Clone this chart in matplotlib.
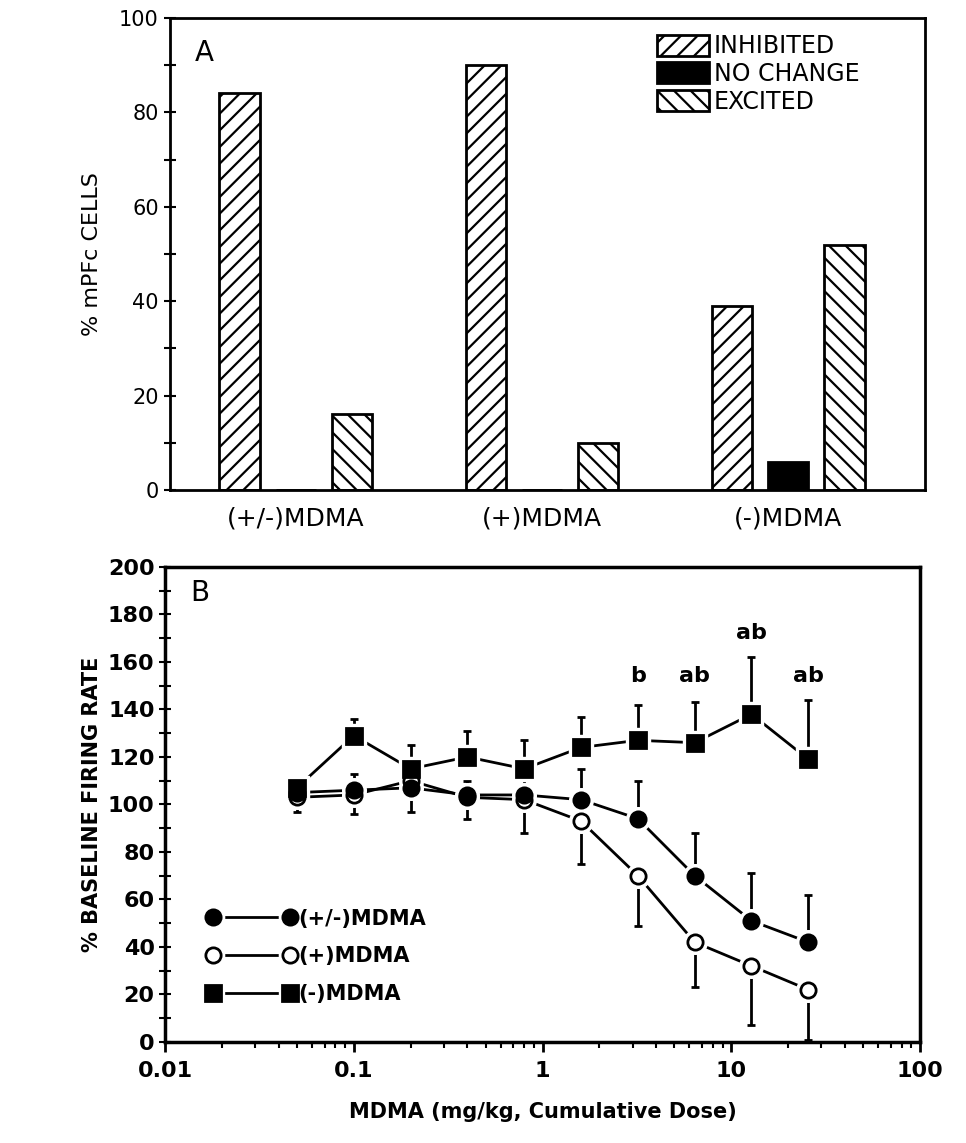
import matplotlib
matplotlib.use("Agg")
import matplotlib.pyplot as plt
import numpy as np
from matplotlib.lines import Line2D
from matplotlib.ticker import LogLocator, NullFormatter, MultipleLocator

# panel A data
groups = ["(+/-)MDMA", "(+)MDMA", "(-)MDMA"]
inhibited = [84, 90, 39]
no_change = [0, 0, 6]
excited = [16, 10, 52]

# panel B data
dose = [0.05, 0.1, 0.2, 0.4, 0.8, 1.6, 3.2, 6.4, 12.8, 25.6]
racemic = [105, 106, 107, 104, 104, 102, 94, 70, 51, 42]
racemic_err = [3, 7, 9, 6, 8, 13, 16, 18, 20, 20]
plus = [103, 104, 110, 103, 102, 93, 70, 42, 32, 22]
plus_err = [6, 8, 13, 9, 14, 18, 21, 19, 25, 21]
minus = [107, 129, 115, 120, 115, 124, 127, 126, 138, 119]
minus_err = [2, 7, 10, 11, 12, 13, 15, 17, 24, 25]
sig_labels = ["b", "ab", "ab", "ab"]
sig_dose = [3.2, 6.4, 12.8, 25.6]
sig_y = [150, 150, 168, 150]

plt.rcParams['hatch.linewidth'] = 1.6
plt.rcParams['font.family'] = 'DejaVu Sans'

fig = plt.figure(figsize=(9.66, 11.43), dpi=100)

# ---------- panel A ----------
ax1 = fig.add_axes([0.176, 0.5713, 0.7816, 0.4130])
x = np.arange(len(groups))
off = 0.228
w = 0.163
ax1.bar(x - off, inhibited, w, color='white', edgecolor='black', hatch='//', lw=2, label='INHIBITED')
ax1.bar(x, no_change, w, color='black', edgecolor='black', lw=2, label='NO CHANGE')
ax1.bar(x + off, excited, w, color='white', edgecolor='black', hatch='\\\\', lw=2, label='EXCITED')
ax1.set_xlim(-0.51, 2.555)
ax1.set_ylim(0, 100)
ax1.yaxis.set_major_locator(MultipleLocator(20))
ax1.yaxis.set_minor_locator(MultipleLocator(10))
ax1.tick_params(axis='y', which='both', direction='inout', length=9, width=1.5, labelsize=15)
ax1.tick_params(axis='x', length=0, labelsize=18, pad=12)
ax1.set_xticks(x)
ax1.set_xticklabels(groups)
ax1.set_ylabel("% mPFc CELLS", fontsize=16, labelpad=12)
for s in ax1.spines.values():
    s.set_linewidth(2)
ax1.text(0.033, 0.955, "A", transform=ax1.transAxes, fontsize=20, va='top')
ax1.legend(loc='upper right', bbox_to_anchor=(0.935, 1.0), frameon=False, fontsize=17,
           handlelength=2.2, handleheight=1.0, handletextpad=0.2, labelspacing=0.15,
           borderaxespad=0.3)

# ---------- panel B ----------
ax2 = fig.add_axes([0.1708, 0.0884, 0.7816, 0.4156])
ax2.set_xscale('log')


def series(y, err, mk, face, up):
    lower = [0] * len(err) if up else err
    upper = err if up else [0] * len(err)
    ax2.errorbar(dose, y, yerr=[lower, upper], fmt='none', ecolor='black', elinewidth=2,
                 capsize=3, capthick=2, zorder=1)
    ax2.plot(dose, y, color='black', lw=2, zorder=2)
    ax2.plot(dose, y, ls='none', marker=mk, ms=17, mfc='white', mec='white', zorder=3)
    ax2.plot(dose, y, ls='none', marker=mk, ms=11, mfc=face, mec='black', mew=2, zorder=4)


series(plus, plus_err, 'o', 'white', False)
series(racemic, racemic_err, 'o', 'black', True)
series(minus, minus_err, 's', 'black', True)

for d, yv, t in zip(sig_dose, sig_y, sig_labels):
    ax2.text(d, yv, t, ha='center', va='bottom', fontsize=16, fontweight='bold')

ax2.set_xlim(0.01, 100)
ax2.set_ylim(0, 200)
ax2.set_xticks([0.01, 0.1, 1, 10, 100])
ax2.set_xticklabels(["0.01", "0.1", "1", "10", "100"])
ax2.xaxis.set_minor_locator(LogLocator(base=10, subs=np.arange(2, 10)))
ax2.xaxis.set_minor_formatter(NullFormatter())
ax2.yaxis.set_major_locator(MultipleLocator(20))
ax2.yaxis.set_minor_locator(MultipleLocator(10))
ax2.tick_params(axis='x', which='major', direction='out', length=7, width=2, labelsize=16, pad=7)
ax2.tick_params(axis='x', which='minor', direction='out', length=4, width=1.5)
ax2.tick_params(axis='y', which='both', direction='inout', length=8, width=1.5, labelsize=16)
for lab in ax2.get_xticklabels() + ax2.get_yticklabels():
    lab.set_fontweight('bold')
for s in ax2.spines.values():
    s.set_linewidth(2.5)
ax2.set_xlabel("MDMA (mg/kg, Cumulative Dose)", fontsize=15, fontweight='bold', labelpad=15)
ax2.set_ylabel("% BASELINE FIRING RATE", fontsize=15, fontweight='bold', labelpad=4)
ax2.text(0.033, 0.975, "B", transform=ax2.transAxes, fontsize=20, va='top')


def legend_handle(mk, face):
    ln = Line2D([0], [0], color='black', lw=2)
    halo = Line2D([0], [0], ls='none', marker=mk, ms=16, mfc='white', mec='white')
    dot = Line2D([0], [0], ls='none', marker=mk, ms=11, mfc=face, mec='black', mew=2)
    return (ln, halo, dot)


handles = [legend_handle('o', 'black'), legend_handle('o', 'white'), legend_handle('s', 'black')]
ax2.legend(handles, ["(+/-)MDMA", "(+)MDMA", "(-)MDMA"], loc='lower left',
           bbox_to_anchor=(0.03, 0.04), frameon=False, numpoints=2, handlelength=4.3,
           handletextpad=0.1, labelspacing=0.85, prop={'size': 15, 'weight': 'bold'})

fig.savefig("out.png", dpi=100)
